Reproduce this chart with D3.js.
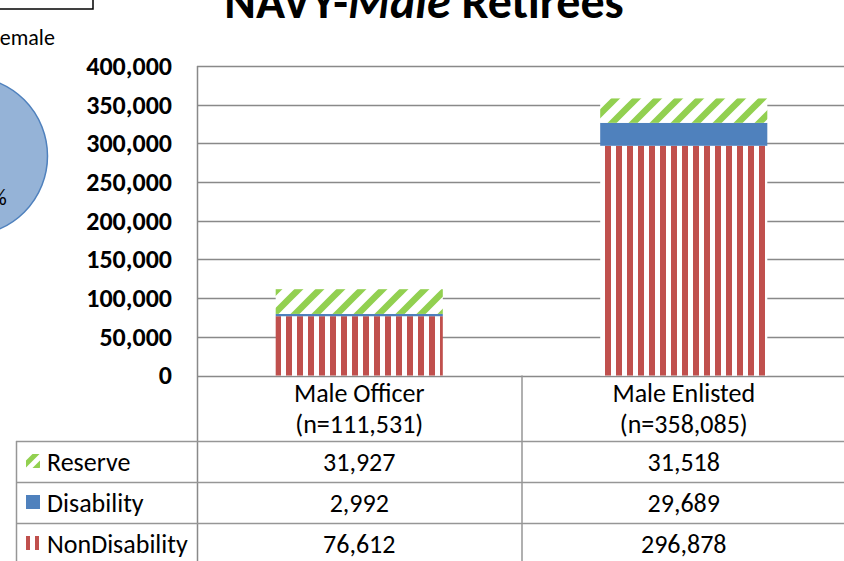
<!DOCTYPE html>
<html><head><meta charset="utf-8">
<script src="https://cdn.jsdelivr.net/npm/d3@7"></script>
<style>
html,body{margin:0;padding:0;background:#fff;overflow:hidden}
svg{display:block}
text{font-family:Carlito,Lato,"Liberation Sans",sans-serif}
</style></head><body>
<script>
const categories = ["Male Officer", "Male Enlisted"];
const categoryN = ["(n=111,531)", "(n=358,085)"];
const seriesNames = ["NonDisability", "Disability", "Reserve"];
const nonDisability = [76612, 296878];
const disability = [2992, 29689];
const reserve = [31927, 31518];
const yTicks = [0, 50000, 100000, 150000, 200000, 250000, 300000, 350000, 400000];
const titlePlain = "NAVY-", titleItalic = "Male", titleRest = " Retirees";

const W = 844, H = 561;
const svg = d3.select("body").append("svg").attr("width", W).attr("height", H);
const defs = svg.append("defs");

// patterns
const pv = defs.append("pattern").attr("id","vstripe").attr("patternUnits","userSpaceOnUse")
  .attr("width",11).attr("height",11);
pv.append("rect").attr("width",11).attr("height",11).attr("fill","#fff");
pv.append("rect").attr("x",0).attr("width",6).attr("height",11).attr("fill","#C0504D");

const P = 21;
const pd = defs.append("pattern").attr("id","dstripe").attr("patternUnits","userSpaceOnUse")
  .attr("width",P).attr("height",P);
pd.append("rect").attr("width",P).attr("height",P).attr("fill","#fff");
pd.append("path").attr("d",`M0,${P} L${P},0 M${-P/2},${P/2} L${P/2},${-P/2} M${P/2},${1.5*P} L${1.5*P},${P/2}`)
  .attr("stroke","#92D050").attr("stroke-width",6.5);

const pk = defs.append("pattern").attr("id","dstripeKey").attr("patternUnits","userSpaceOnUse")
  .attr("width",14).attr("height",14);
pk.append("rect").attr("width",14).attr("height",14).attr("fill","#fff");
pk.append("path").attr("d","M0,14 L14,0 M-7,7 L7,-7 M7,21 L21,7").attr("stroke","#92D050").attr("stroke-width",5);

const plotLeft = 197, plotRight = 846, y0 = 375.5, yTop = 66;
const y = d3.scaleLinear().domain([0, 400000]).range([y0, yTop]);
const x = d3.scaleBand().domain(categories).range([plotLeft, plotRight]).paddingInner(0.485).paddingOuter(0.2425);
const xc = d3.scaleBand().domain(categories).range([plotLeft, plotRight]);

// left decoration: partial pie, box, legend text
svg.append("rect").attr("x",-10).attr("y",-10).attr("width",103).attr("height",19)
  .attr("fill","#fff").attr("stroke","#000").attr("stroke-width",1.5);
svg.append("text").attr("x",-10).attr("y",45).attr("font-size",22).attr("fill","#000").text("Female");
svg.append("circle").attr("cx",-32).attr("cy",156).attr("r",79.5)
  .attr("fill","#95B3D7").attr("stroke","#4F81BD").attr("stroke-width",1.5);
svg.append("text").attr("x",-9).attr("y",205).attr("font-size",22).attr("fill","#000").text("%");

// gridlines
const grid = svg.append("g");
grid.selectAll("line").data(yTicks).join("line")
  .attr("x1", plotLeft).attr("x2", W + 5)
  .attr("y1", d => Math.round(y(d)) + 0.5).attr("y2", d => Math.round(y(d)) + 0.5)
  .attr("stroke", "#898989").attr("stroke-width", 1.5);

// y-axis
const yAxis = d3.axisLeft(y).tickValues(yTicks).tickSize(0).tickPadding(25)
  .tickFormat(d3.format(","));
const ga = svg.append("g").attr("transform", `translate(${plotLeft},0)`).call(yAxis);
ga.select(".domain").remove();
ga.selectAll("text").attr("font-size", 26).attr("font-weight", "bold").attr("fill", "#000")
  .style("font-family", "Carlito,Lato,'Liberation Sans',sans-serif");

// stacked bars
const rows = categories.map((c,i) => ({cat:c, NonDisability:nonDisability[i], Disability:disability[i], Reserve:reserve[i]}));
const stack = d3.stack().keys(seriesNames)(rows);
const fills = {NonDisability:"url(#vstripe)", Disability:"#4F81BD", Reserve:"url(#dstripe)"};
svg.append("g").selectAll("g").data(stack).join("g")
  .attr("fill", d => fills[d.key])
  .selectAll("rect").data(d => d).join("rect")
  .attr("x", d => x(d.data.cat)).attr("width", x.bandwidth())
  .attr("y", d => y(d[1])).attr("height", d => y(d[0]) - y(d[1]));

// axis line (vertical) extending through table
svg.append("line").attr("x1",plotLeft+0.5).attr("x2",plotLeft+0.5).attr("y1",yTop).attr("y2",H+5)
  .attr("stroke","#898989").attr("stroke-width",1.5);

// data table
const rowTop = 441, rowH = 41;
const tbl = svg.append("g");
const lineC = "#969696";
xc.domain().forEach((c,i) => {
  const xr = xc(c) + xc.bandwidth();
  tbl.append("line").attr("x1",xr+0.5).attr("x2",xr+0.5).attr("y1",y0).attr("y2",H+5)
    .attr("stroke",lineC).attr("stroke-width",1.5);
});
tbl.append("line").attr("x1",16.5).attr("x2",16.5).attr("y1",rowTop).attr("y2",H+5)
  .attr("stroke",lineC).attr("stroke-width",1.5);
[0,1,2,3].forEach(k => {
  tbl.append("line").attr("x1",16).attr("x2",W+5)
    .attr("y1",rowTop + k*rowH + 0.5).attr("y2",rowTop + k*rowH + 0.5)
    .attr("stroke",lineC).attr("stroke-width",1.5);
});
categories.forEach((c,i) => {
  const cx = xc(c) + xc.bandwidth()/2;
  tbl.append("text").attr("x",cx).attr("y",402).attr("text-anchor","middle").attr("font-size",26).text(c);
  tbl.append("text").attr("x",cx).attr("y",433).attr("text-anchor","middle").attr("font-size",26).text(categoryN[i]);
});
const tableRows = [
  {name:"Reserve", vals:reserve},
  {name:"Disability", vals:disability},
  {name:"NonDisability", vals:nonDisability}
];
const fmt = d3.format(",");
tableRows.forEach((r,k) => {
  const ty = rowTop + k*rowH + 30;
  tbl.append("text").attr("x",47).attr("y",ty).attr("font-size",26).text(r.name);
  categories.forEach((c,i) => {
    tbl.append("text").attr("x", xc(c) + xc.bandwidth()/2).attr("y", ty)
      .attr("text-anchor","middle").attr("font-size",26).text(fmt(r.vals[i]));
  });
  const ky = rowTop + k*rowH + 13;
  if (r.name === "Reserve") {
    tbl.append("rect").attr("x",26).attr("y",ky).attr("width",14).attr("height",14).attr("fill","url(#dstripeKey)");
  } else if (r.name === "Disability") {
    tbl.append("rect").attr("x",26).attr("y",ky).attr("width",14).attr("height",14).attr("fill","#4F81BD");
  } else {
    tbl.append("rect").attr("x",26).attr("y",ky).attr("width",4).attr("height",14).attr("fill","#C0504D");
    tbl.append("rect").attr("x",35).attr("y",ky).attr("width",4).attr("height",14).attr("fill","#C0504D");
  }
});

// title
const title = svg.append("text").attr("x", 424).attr("y", 18).attr("text-anchor","middle")
  .attr("font-size", 48).attr("font-weight","bold").attr("fill","#000");
title.append("tspan").text(titlePlain);
title.append("tspan").attr("font-style","italic").text(titleItalic);
title.append("tspan").text(titleRest);
</script>
</body></html>
